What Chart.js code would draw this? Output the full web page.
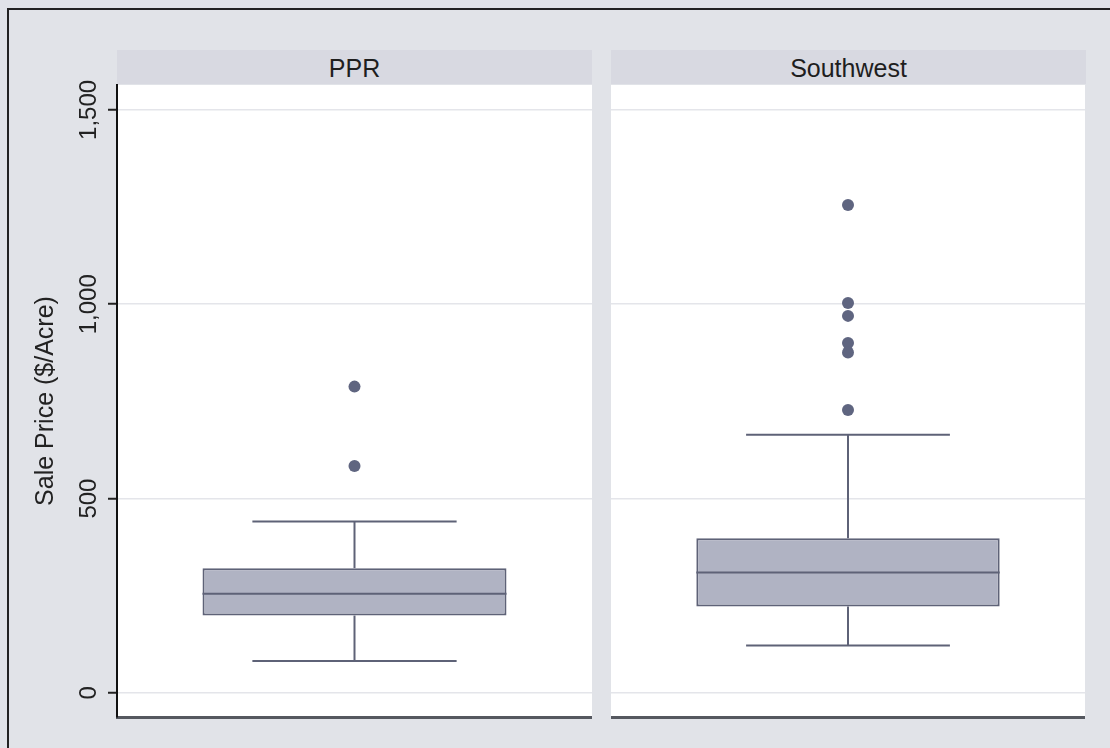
<!DOCTYPE html>
<html>
<head>
<meta charset="utf-8">
<script src="https://cdn.jsdelivr.net/npm/chart.js@4.4.1/dist/chart.umd.min.js"></script>
<style>
  body { margin: 0; background: #e1e3e8; width: 1110px; height: 748px; overflow: hidden; position: relative; font-family: "Liberation Sans", Arial, sans-serif; }
  .frame { position: absolute; left: 7px; top: 8px; right: -10px; bottom: -10px; border-left: 2px solid #222; border-top: 2px solid #222; }
  .strip { position: absolute; top: 50px; height: 34px; width: 475px; background: #d8d9e1; text-align: center; font-size: 25px; line-height: 36px; color: #1e1e1e; }
  canvas { position: absolute; top: 0; }
</style>
</head>
<body>
<div class="frame"></div>
<div class="strip" id="stripLeft" style="left:117px"></div>
<div class="strip" id="stripRight" style="left:611px"></div>
<canvas id="chartLeft" width="592" height="748" style="left:0"></canvas>
<canvas id="chartRight" width="474" height="748" style="left:611px"></canvas>
<script>
// box plot summaries
const categories = ['PPR', 'Southwest'];
const lowerWhisker = [82, 122];
const q1 = [199, 222];
const median = [255, 310];
const q3 = [321, 398];
const upperWhisker = [441, 664];
const outliersPPR = [788, 584];
const outliersSouthwest = [1255, 1003, 970, 900, 876, 728];
const yTicks = [0, 500, 1000, 1500];

const outliers = [outliersPPR, outliersSouthwest];

const boxFill = '#b0b3c3';
const lineColor = '#5e6277';
const dotColor = '#5f6580';

// white plot region behind the marks
const plotBackground = {
    id: 'plotBackground',
    beforeDraw(chart) {
        const a = chart.chartArea;
        const ctx = chart.ctx;
        ctx.save();
        ctx.fillStyle = '#ffffff';
        ctx.fillRect(a.left, a.top, a.right - a.left, a.bottom - a.top);
        ctx.restore();
    }
};

function segment(x1, y1, x2, y2) {
    return {
        type: 'line',
        xAxisID: 'xl',
        data: [{x: x1, y: y1}, {x: x2, y: y2}],
        borderColor: lineColor,
        borderWidth: 2,
        pointRadius: 0,
        order: 1
    };
}

function makePanel(canvasId, i, showAxis) {
    document.getElementById(i === 0 ? 'stripLeft' : 'stripRight').textContent = categories[i];

    const datasets = [
        {
            type: 'bar',
            xAxisID: 'x',
            data: [[q1[i], q3[i]]],
            backgroundColor: boxFill,
            borderColor: lineColor,
            borderWidth: 2,
            borderSkipped: false,
            grouped: false,
            barPercentage: 0.64,
            categoryPercentage: 1,
            order: 5
        },
        segment(0.18, median[i], 0.82, median[i]),
        segment(0.5, q3[i], 0.5, upperWhisker[i]),
        segment(0.285, upperWhisker[i], 0.715, upperWhisker[i]),
        segment(0.5, lowerWhisker[i], 0.5, q1[i]),
        segment(0.285, lowerWhisker[i], 0.715, lowerWhisker[i]),
        {
            type: 'scatter',
            xAxisID: 'xl',
            data: outliers[i].map(v => ({x: 0.5, y: v})),
            backgroundColor: dotColor,
            borderWidth: 0,
            pointRadius: 6,
            order: 0
        }
    ];

    return new Chart(document.getElementById(canvasId), {
        type: 'bar',
        data: { labels: [categories[i]], datasets: datasets },
        options: {
            responsive: false,
            animation: false,
            layout: { autoPadding: false, padding: { top: 85, bottom: 31, left: 0, right: 0 } },
            plugins: { legend: { display: false }, tooltip: { enabled: false } },
            scales: {
                x: {
                    type: 'category',
                    grid: { display: false },
                    ticks: { display: false },
                    border: { display: true, color: '#55585f', width: 3 },
                    afterFit: s => { s.height = 0; }
                },
                xl: { type: 'linear', min: 0, max: 1, offset: false, display: false },
                y: {
                    type: 'linear',
                    min: -62,
                    max: 1564,
                    afterBuildTicks: s => { s.ticks = yTicks.map(v => ({value: v})); },
                    ticks: {
                        display: showAxis,
                        minRotation: 90,
                        maxRotation: 90,
                        crossAlign: 'center',
                        padding: -11,
                        color: '#222',
                        font: { family: 'Liberation Sans', size: 24 }
                    },
                    grid: {
                        color: '#e4e5ea',
                        lineWidth: 1.5,
                        drawTicks: showAxis,
                        tickLength: 9,
                        tickColor: '#222',
                        tickWidth: 2
                    },
                    border: { display: showAxis, color: '#111', width: 2 },
                    title: {
                        display: showAxis,
                        text: 'Sale Price ($/Acre)',
                        color: '#222',
                        font: { family: 'Liberation Sans', size: 25 },
                        padding: { top: 31, bottom: 0 }
                    },
                    afterFit: s => { s.width = showAxis ? 117 : 0; }
                }
            }
        },
        plugins: [plotBackground]
    });
}

makePanel('chartLeft', 0, true);
makePanel('chartRight', 1, false);
</script>
</body>
</html>
